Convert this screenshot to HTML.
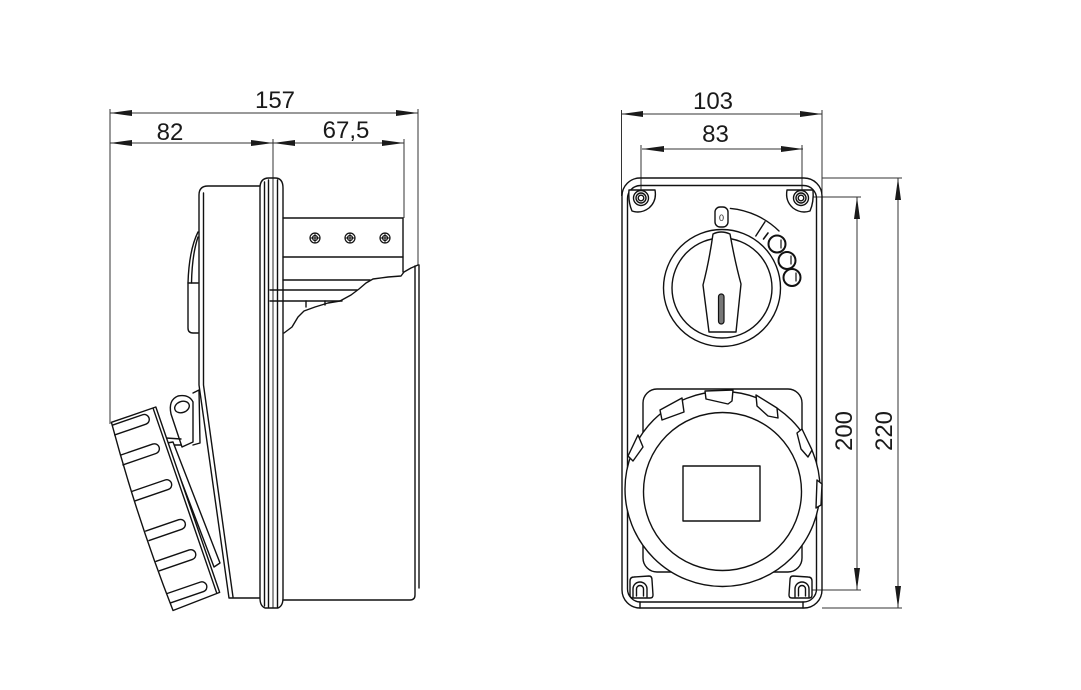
<!DOCTYPE html>
<html><head><meta charset="utf-8">
<style>
html,body{margin:0;padding:0;background:#fff;}
svg{display:block;}
text{font-family:"Liberation Sans",Arial,sans-serif;font-size:24px;fill:#1a1a1a;}
</style></head><body>
<svg width="1081" height="690" viewBox="0 0 1081 690" xmlns="http://www.w3.org/2000/svg">
<rect width="1081" height="690" fill="#fff"/>

<!-- ============ DIMENSIONS ============ -->
<g stroke="#333" stroke-width="1" fill="none">
  <line x1="110" y1="113" x2="418" y2="113"/>
  <line x1="110" y1="143" x2="404" y2="143"/>
  <line x1="110" y1="109" x2="110" y2="424"/>
  <line x1="418" y1="109" x2="418" y2="265"/>
  <line x1="273" y1="139" x2="273" y2="178"/>
  <line x1="404" y1="139" x2="404" y2="218"/>

  <line x1="621" y1="114" x2="822" y2="114"/>
  <line x1="642" y1="149" x2="803" y2="149"/>
  <line x1="621.5" y1="110" x2="621.5" y2="196"/>
  <line x1="822" y1="110" x2="822" y2="196"/>
  <line x1="641" y1="145" x2="641" y2="197"/>
  <line x1="802" y1="145" x2="802" y2="197"/>
  <line x1="857" y1="197" x2="857" y2="590"/>
  <line x1="898" y1="178" x2="898" y2="608"/>
  <line x1="808" y1="197" x2="861" y2="197"/>
  <line x1="808" y1="590" x2="861" y2="590"/>
  <line x1="822" y1="178" x2="902" y2="178"/>
  <line x1="822" y1="608" x2="902" y2="608"/>
</g>
<g fill="#1a1a1a" stroke="none">
  <polygon points="110,113 132,110 132,116"/>
  <polygon points="418,113 396,110 396,116"/>
  <polygon points="110,143 132,140 132,146"/>
  <polygon points="273,143 251,140 251,146"/>
  <polygon points="273,143 295,140 295,146"/>
  <polygon points="404,143 382,140 382,146"/>

  <polygon points="621,114 643,111 643,117"/>
  <polygon points="822,114 800,111 800,117"/>
  <polygon points="642,149 664,146 664,152"/>
  <polygon points="803,149 781,146 781,152"/>
  <polygon points="857,197 854,219 860,219"/>
  <polygon points="857,590 854,568 860,568"/>
  <polygon points="898,178 895,200 901,200"/>
  <polygon points="898,608 895,586 901,586"/>
</g>
<text x="275" y="108" text-anchor="middle">157</text>
<text x="170" y="140" text-anchor="middle">82</text>
<text x="346" y="138" text-anchor="middle">67,5</text>
<text x="713" y="109" text-anchor="middle">103</text>
<text x="715.5" y="142" text-anchor="middle">83</text>
<text transform="translate(852,431) rotate(-90)" text-anchor="middle">200</text>
<text transform="translate(892,431) rotate(-90)" text-anchor="middle">220</text>

<!-- ============ SIDE VIEW ============ -->
<g fill="none" stroke="#111" stroke-width="1.4" stroke-linejoin="round" stroke-linecap="round">
  <!-- rear cover -->
  <path d="M260,186 L208,186 Q199,186 199,195 L199,385 L229,598 L260,598"/>
  <path d="M203.5,193 L203.5,385 L233,597"/>
  <!-- latch -->
  <path d="M198,232 Q189,250 188,283 L188,328 Q188,333 193,333 L198,333"/>
  <path d="M198,237 Q192,255 191.5,283"/>
  <line x1="188" y1="283" x2="198" y2="283"/>

  <!-- flange -->
  <path d="M260,598 L260,188 Q260,178 269,178 L275,178 Q283,178 283,188 L283,598 Q283,606 278,608 L265,608 Q260,606 260,598 Z" fill="#fff"/>
  <line x1="264.5" y1="182" x2="264.5" y2="606"/>
  <line x1="268.5" y1="180" x2="268.5" y2="607"/>
  <line x1="277.5" y1="180" x2="277.5" y2="607"/>
  <line x1="273" y1="178" x2="273" y2="608" stroke-width="0.9"/>

  <!-- terminal block -->
  <path d="M283,218 L403,218 L403,272"/>
  <line x1="283" y1="257" x2="403" y2="257"/>
  <line x1="283" y1="280" x2="370" y2="280"/>
  <line x1="270" y1="290" x2="357" y2="290"/>
  <line x1="270" y1="301" x2="342" y2="301"/>
  <line x1="306" y1="301" x2="306" y2="307"/>
  <line x1="325" y1="301" x2="325" y2="305"/>

  <!-- break line + body -->
  <path d="M418,265 L411,268 L404,272 L401,276 L388,277 L373,279 L366,283 L359,289 L351,295 L340,301 L328,303 L315,307 L304,311 L298,317 L292,327 L284,333"/>
  <path d="M415,266 L415,595 Q415,600 410,600 L283,600"/>
  <line x1="419" y1="265" x2="419" y2="588"/>

  <!-- lug -->
  <path d="M193,442 L182,447 L171,414 Q168,400 178,396 Q189,394 193,402 Z" fill="#fff"/>
  <ellipse cx="182" cy="407" rx="7.5" ry="5.5" transform="rotate(-20 182 407)"/>
  <path d="M193,393 L199,390 L200,443 L193,445"/>
  <path d="M166,438 L181,439 M168,445 L181,445"/>
  <path d="M167,443 L173,442 L220,563 L214,567 Z" fill="#fff"/>

  <!-- ring -->
  <g transform="translate(153,408) rotate(-19)">
    <path d="M3,0 L3,196 L-47,198 Q-51,100 -44,0 Z" fill="#fff"/>
    <line x1="0" y1="1" x2="0" y2="196"/>
    <path d="M-44,3 L-12,3 A5,5 0 0 1 -12,13 L-45,13"/>
    <path d="M-46,34 L-12,34 A5,5 0 0 1 -12,44 L-47,44"/>
    <path d="M-47,72 L-12,72 A5,5 0 0 1 -12,82 L-47,82"/>
    <path d="M-47,114 L-12,114 A5,5 0 0 1 -12,124 L-47,124"/>
    <path d="M-47,146 L-12,146 A5,5 0 0 1 -12,156 L-47,156"/>
    <path d="M-47,180 L-12,180 A5,5 0 0 1 -12,190 L-47,190"/>
  </g>
</g>
<!-- terminal screws -->
<g fill="#fff" stroke="#111" stroke-width="1.2">
  <circle cx="315" cy="238" r="5"/><circle cx="350" cy="238" r="5"/><circle cx="385" cy="238" r="5"/>
  <circle cx="315" cy="238" r="2.5"/><circle cx="350" cy="238" r="2.5"/><circle cx="385" cy="238" r="2.5"/>
  <path d="M310,238 H320 M315,233 V243 M345,238 H355 M350,233 V243 M380,238 H390 M385,233 V243" fill="none" stroke-width="1"/>
</g>

<!-- ============ FRONT VIEW ============ -->
<g fill="none" stroke="#111" stroke-width="1.4" stroke-linejoin="round" stroke-linecap="round">
  <rect x="622" y="178" width="200" height="430" rx="18"/>
  <rect x="627.5" y="185.5" width="189" height="416.5" rx="13"/>
  <line x1="640" y1="602" x2="640" y2="608"/>
  <line x1="803" y1="602" x2="803" y2="608"/>

  <!-- top screw bosses -->
  <g id="tb">
    <path d="M629,190 L655,190 Q657,201 649,208 Q641,214 632,211 Q628,202 629,190 Z" fill="#fff"/>
    <circle cx="641" cy="198" r="7.5"/>
    <circle cx="641" cy="198" r="5"/>
    <circle cx="641" cy="198" r="2.8"/>
  </g>
  <g transform="translate(1442,0) scale(-1,1)">
    <path d="M629,190 L655,190 Q657,201 649,208 Q641,214 632,211 Q628,202 629,190 Z" fill="#fff"/>
    <circle cx="641" cy="198" r="7.5"/>
    <circle cx="641" cy="198" r="5"/>
    <circle cx="641" cy="198" r="2.8"/>
  </g>

  <!-- switch -->
  <path d="M730.4,208.4 A80,80 0 0 1 779,231"/>
  <rect x="715" y="207" width="13" height="20" rx="5" fill="#fff"/>
  <circle cx="722" cy="288" r="58.5" fill="#fff"/>
  <circle cx="722" cy="288" r="50"/>
  <line x1="755.8" y1="236" x2="765" y2="221.7"/>
  <line x1="763.5" y1="239" x2="768" y2="233" stroke-width="1.6"/>
  <g fill="#fff" stroke-width="2">
    <circle cx="777" cy="244" r="8.5"/>
    <circle cx="787" cy="260.5" r="8.5"/>
    <circle cx="792" cy="277.5" r="8.5"/>
  </g>
  <path d="M781,240 V248 M791,256 V264 M796,273 V281" stroke-width="1.2"/>
  <path d="M713,234 Q721,230 730,234 Q735,262 741,284 L736,332 L709,332 L703,285 Q709,262 713,234 Z" fill="#fff"/>
  <rect x="718.5" y="294" width="5.5" height="30" rx="2.7" fill="#777" stroke-width="1.2"/>

  <!-- socket -->
  <rect x="643" y="389" width="159" height="183" rx="14" fill="#fff"/>
  <circle cx="722.5" cy="489" r="97.5" fill="#fff"/>
  <polygon points="705,391 706,399 728,404 732,401 733,390" fill="#fff"/>
  <polygon points="660,410 682,398 684,412 662,420" fill="#fff"/>
  <polygon points="756,395 777,408 778,418 768,416 757,406" fill="#fff"/>
  <polygon points="797,433 802,429 812,450 808,457 801,449" fill="#fff"/>
  <polygon points="638,435 643,447 633,461 628,456" fill="#fff"/>
  <polygon points="817,480 822,484 821,505 816,508" fill="#fff"/>
  <circle cx="722.5" cy="491.5" r="79"/>
  <rect x="683" y="466" width="77" height="55"/>

  <!-- bottom screw bosses -->
  <g>
    <path d="M630,581 Q630,577 634,577 L649,576 Q652,576 652,580 L653,595 Q653,598 650,598 L633,598 Q630,598 630,595 Z" fill="#fff"/>
    <path d="M633,597 L633,589 A7,7 0 0 1 647,589 L647,597"/>
    <path d="M636.5,596 L636.5,589 A3.5,3.5 0 0 1 643.5,589 L643.5,596"/>
  </g>
  <g transform="translate(1442,0) scale(-1,1)">
    <path d="M630,581 Q630,577 634,577 L649,576 Q652,576 652,580 L653,595 Q653,598 650,598 L633,598 Q630,598 630,595 Z" fill="#fff"/>
    <path d="M633,597 L633,589 A7,7 0 0 1 647,589 L647,597"/>
    <path d="M636.5,596 L636.5,589 A3.5,3.5 0 0 1 643.5,589 L643.5,596"/>
  </g>
</g>
<text x="721.5" y="221" text-anchor="middle" style="font-size:9px">0</text>
</svg>
</body></html>
